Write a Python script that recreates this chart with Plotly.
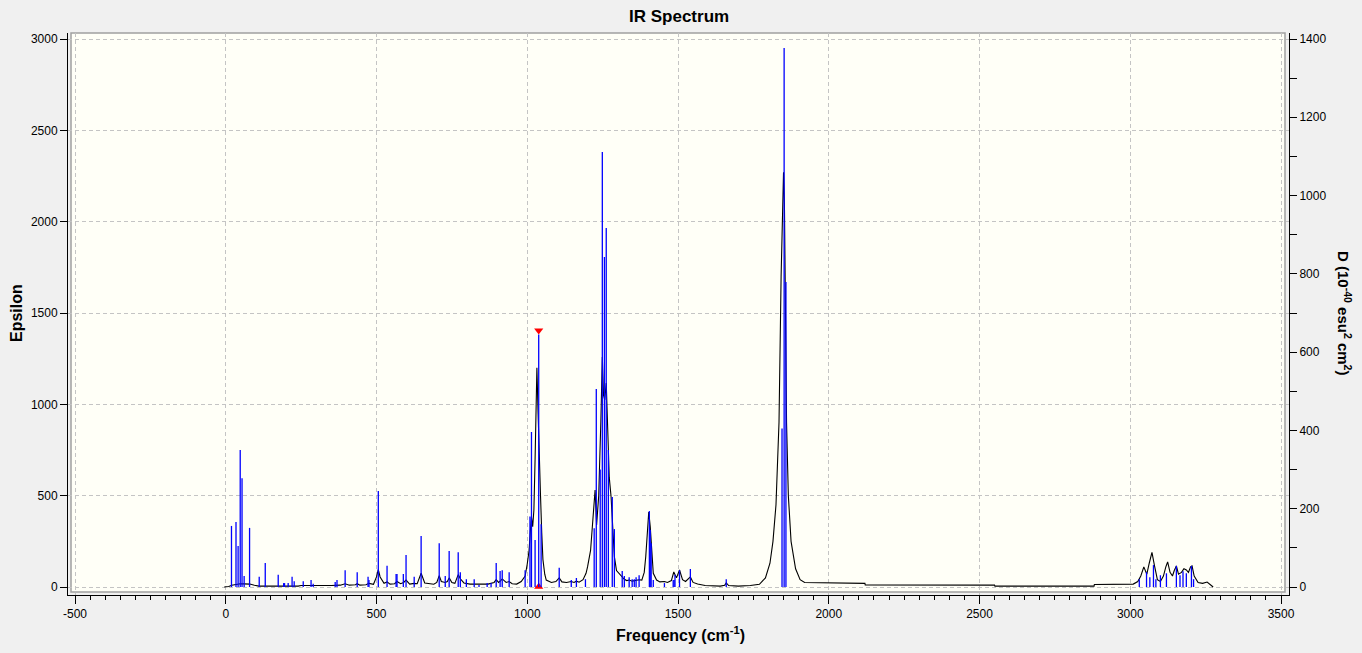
import plotly.graph_objects as go

# ---- Data ----
# Stick spectrum (frequency cm-1, D 10^-40 esu^2 cm^2) - right axis
stick_freq = [19, 34, 41, 48, 54, 61, 79, 111, 131, 174, 192, 195, 207, 220, 227, 257, 283, 290,
              363, 369, 396, 436, 472, 475, 506, 535, 565, 568, 589, 598, 625, 648, 708, 728, 741,
              771, 778, 798, 824, 840, 867, 880, 897, 910, 917, 940, 993,
              1009, 1014, 1026, 1038, 1046, 1106, 1146, 1163, 1193,
              1222, 1229, 1242, 1249, 1256, 1262, 1269, 1282, 1289,
              1315, 1322, 1338, 1348, 1355, 1361, 1371, 1405, 1408, 1411, 1418, 1455,
              1484, 1487, 1490, 1505, 1541, 1660, 1845, 1852, 1858,
              3030, 3054, 3065, 3077, 3085, 3100, 3120, 3153, 3165, 3175, 3186, 3203, 3210]
stick_D = [156, 166, 105, 350, 278, 28, 151, 26, 61, 31, 10, 10, 10, 26, 15, 15, 18, 8,
           13, 18, 43, 38, 26, 18, 245, 54, 33, 33, 33, 82, 26, 130, 112, 28, 92,
           89, 38, 20, 20, 5, 10, 10, 61, 41, 43, 38, 43,
           180, 396, 120, 645, 160, 49, 18, 23, 20,
           150, 506, 300, 1111, 843, 917, 350, 230, 148,
           41, 28, 25, 20, 20, 25, 30, 194, 146, 112, 18, 10,
           18, 18, 31, 43, 46, 20, 405, 1377, 779,
           20, 38, 25, 56, 20, 30, 35, 54, 30, 40, 35, 54, 20]

# Broadened spectrum (frequency cm-1, Epsilon) - left axis
curve_freq = [-5, 10, 20, 35, 48, 60, 80, 95, 110, 240, 250, 350, 380, 396, 410, 430, 436, 445,
              465, 475, 490, 500, 506, 512, 525, 535, 545, 560, 568, 580, 590, 598, 610, 625,
              635, 648, 660, 690, 700, 708, 715, 728, 735, 741, 750, 760, 765, 771, 778, 790,
              810, 830, 850, 870, 890, 897, 905, 912, 917, 930, 940, 950, 965, 980, 993,
              1000, 1006, 1010, 1014, 1018, 1022, 1026, 1032, 1036, 1040, 1044, 1048, 1052,
              1058, 1063, 1080, 1095, 1106, 1115, 1130, 1146, 1155, 1163, 1172, 1185, 1195,
              1200, 1210, 1218, 1225, 1230, 1237, 1244, 1249, 1253, 1257, 1262, 1267, 1272,
              1278, 1283, 1289, 1296, 1308, 1315, 1322, 1330, 1338, 1348, 1355, 1361, 1371,
              1380, 1388, 1393, 1398, 1403, 1408, 1413, 1418, 1429, 1440, 1455, 1465, 1478,
              1486, 1495, 1505, 1515, 1525, 1541, 1550, 1565, 1590, 1640, 1655, 1660, 1668,
              1700, 1740, 1770, 1790, 1805, 1815, 1825, 1835, 1842, 1846, 1850, 1853, 1856,
              1860, 1866, 1875, 1890, 1905, 1920, 2120, 2121, 2550, 2551, 2880, 2881, 3010,
              3025, 3035, 3045, 3055, 3063, 3072, 3080, 3090, 3100, 3110, 3118, 3124, 3132,
              3140, 3146, 3153, 3160, 3170, 3178, 3186, 3193, 3200, 3205, 3212, 3225, 3240,
              3255, 3265, 3275]
curve_eps = [0, 3, 10, 14, 18, 17, 16, 10, 5, 5, 8, 8, 10, 18, 10, 12, 18, 10,
             12, 20, 15, 55, 95, 55, 20, 28, 16, 18, 30, 18, 25, 38, 16, 20,
             18, 75, 22, 15, 25, 62, 30, 25, 30, 50, 25, 20, 40, 68, 45, 22,
             16, 14, 16, 16, 25, 40, 25, 35, 44, 25, 30, 18, 16, 30, 60,
             126, 200, 300, 383, 330, 420, 700, 1200, 950, 668, 500, 300, 150,
             70, 38, 25, 30, 50, 28, 25, 30, 25, 32, 26, 40, 75,
             110, 200, 380, 531, 340, 500, 900, 1259, 1050, 1024, 1117, 800, 600,
             494, 350, 166, 90, 66, 50, 42, 35, 38, 32, 35, 38, 40,
             38, 80, 166, 300, 410, 330, 180, 75, 38, 28, 30, 25, 35,
             82, 50, 93, 40, 30, 55, 25, 16, 8, 5, 10, 22, 8,
             5, 8, 15, 50, 130, 250, 450, 900, 1700, 2000, 2271, 2100, 1500,
             900, 500, 250, 100, 40, 25, 20, 11, 10, 5, 5, 14, 16,
             30, 60, 110, 70, 130, 190, 120, 40, 30, 60, 110, 137, 80,
             60, 90, 115, 70, 80, 100, 93, 80, 110, 115, 60, 25, 20,
             27, 12, 0]

# Selected mode marker
sel_freq = 1038
sel_D = 655

x_ticks = [-500, 0, 500, 1000, 1500, 2000, 2500, 3000, 3500]
y_ticks = [0, 500, 1000, 1500, 2000, 2500, 3000]
y2_ticks = [0, 200, 400, 600, 800, 1000, 1200, 1400]

# ---- Geometry (pixels) ----
W, H = 1362, 653
L, R, T, B = 68, 1289, 33, 595
pw, ph = R - L, B - T


def px2x(px):
    return (px - L) / pw


def py2y(py):
    return (B - py) / ph


FONT = "Liberation Sans"

fig = go.Figure()

# sticks
sx, sy = [], []
for f, d in zip(stick_freq, stick_D):
    sx += [f, f, None]
    sy += [0, d, None]
fig.add_trace(go.Scatter(x=sx, y=sy, mode="lines", yaxis="y2",
                         line=dict(color="#0000ff", width=1.3), hoverinfo="skip",
                         showlegend=False))

# broadened curve
fig.add_trace(go.Scatter(x=curve_freq, y=curve_eps, mode="lines", yaxis="y",
                         line=dict(color="#000000", width=1.1), showlegend=False))

# selected-mode markers
fig.add_trace(go.Scatter(x=[sel_freq], y=[sel_D], mode="markers", yaxis="y2",
                         marker=dict(symbol="triangle-down", color="#ff0000", size=8),
                         showlegend=False))
fig.add_trace(go.Scatter(x=[sel_freq], y=[2], mode="markers", yaxis="y",
                         marker=dict(symbol="triangle-up", color="#ff0000", size=8),
                         showlegend=False))

xr = [-500 - (75 - L) / 0.3015, -500 + (R - 75) / 0.3015]
ypx = 548 / 3000.0
yr = [-(B - 587) / ypx, 3000 + (39 - T) / ypx]
y2r = [yr[0] * 1400 / 3000, yr[1] * 1400 / 3000]

tickfont = dict(family=FONT, size=12, color="#000000")
grid = dict(showgrid=True, gridcolor="#c4c4c4", griddash="4px,3px", gridwidth=1)

fig.update_layout(
    width=W, height=H,
    margin=dict(l=L, r=W - R, t=T, b=H - B, pad=0),
    paper_bgcolor="#f0f0f0",
    plot_bgcolor="#f0f0f0",
    showlegend=False,
    xaxis=dict(range=xr, tickvals=x_ticks, ticktext=[str(v) for v in x_ticks],
               ticks="outside", ticklen=8, tickcolor="#000", tickwidth=1,
               showline=True, linecolor="#000", linewidth=1, zeroline=False,
               minor=dict(dtick=50, tick0=0, ticks="outside", ticklen=4, tickcolor="#000",
                          showgrid=False),
               tickfont=tickfont, **grid),
    yaxis=dict(range=yr, tickvals=y_ticks, ticks="outside", ticklen=7, tickcolor="#000",
               showline=True, linecolor="#000", linewidth=1, zeroline=False,
               tickfont=tickfont, **grid),
    yaxis2=dict(range=y2r, tickvals=y2_ticks, overlaying="y", side="right",
                ticks="outside", ticklen=7, tickcolor="#000",
                showline=True, linecolor="#000", linewidth=1, zeroline=False,
                showgrid=False,
                minor=dict(dtick=100, tick0=0, ticks="outside", ticklen=7, tickcolor="#000",
                           showgrid=False),
                tickfont=tickfont),
    shapes=[dict(type="rect", xref="paper", yref="paper", layer="below",
                 x0=px2x(71), x1=px2x(1285), y0=py2y(592), y1=py2y(33),
                 fillcolor="#fffff7", line=dict(color="#a0a0a0", width=1.5))],
    annotations=[
        dict(text="<b>IR Spectrum</b>", xref="paper", yref="paper",
             x=px2x(679), y=py2y(16), showarrow=False, xanchor="center", yanchor="middle",
             font=dict(family=FONT, size=17, color="#000")),
        dict(text="<b>Frequency (cm<sup>-1</sup>)</b>", xref="paper", yref="paper",
             x=px2x(680), y=py2y(634), showarrow=False, xanchor="center", yanchor="middle",
             font=dict(family=FONT, size=16, color="#000")),
        dict(text="<b>Epsilon</b>", xref="paper", yref="paper",
             x=px2x(16), y=py2y(313), showarrow=False, textangle=-90,
             xanchor="center", yanchor="middle",
             font=dict(family=FONT, size=16, color="#000")),
        dict(text="<b>D (10<sup>-40</sup> esu<sup>2</sup> cm<sup>2</sup>)</b>", xref="paper",
             yref="paper", x=px2x(1345), y=py2y(313), showarrow=False, textangle=90,
             xanchor="center", yanchor="middle",
             font=dict(family=FONT, size=15, color="#000")),
    ],
)

fig.write_html("out.html",
               config={"displayModeBar": False},
               post_script="document.body.style.margin='0px';"
                           "document.body.style.overflow='hidden';")
